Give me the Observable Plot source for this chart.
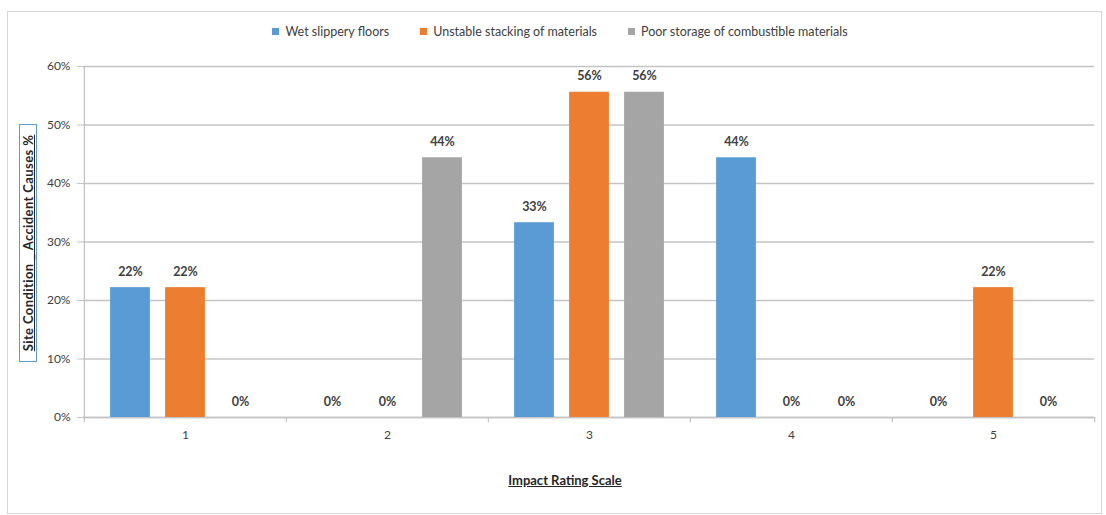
<!DOCTYPE html>
<html><head><meta charset="utf-8">
<script src="https://cdn.jsdelivr.net/npm/d3@7"></script>
<script src="https://cdn.jsdelivr.net/npm/@observablehq/plot@0.6"></script>
<style>
body{margin:0;width:1106px;height:515px;position:relative;background:#fff;font-family:Lato,"Open Sans",sans-serif;overflow:hidden}
#border{position:absolute;left:7px;top:11px;width:1095px;height:503px;border:1px solid #d6d6d6;box-sizing:border-box}
#chart{position:absolute;left:0;top:0}
#legend{position:absolute;top:24px;left:7px;width:1106px;display:flex;justify-content:center;gap:31px;font-size:12.5px;color:#404040}
#legend span.sw{display:inline-block;width:7px;height:7px;margin-right:6px;vertical-align:1px}
#ylab{position:absolute;left:28px;top:243px;width:238px;height:18px;transform:translate(-50%,-50%) rotate(-90deg);border:1px solid #5b9bd5;box-sizing:border-box;font-size:13px;letter-spacing:0.4px;font-weight:bold;text-decoration:underline;color:#262626;text-align:center;line-height:16px;white-space:nowrap}
#xlab{position:absolute;left:565px;top:472px;transform:translateX(-50%);font-size:13px;font-weight:bold;text-decoration:underline;color:#262626;white-space:nowrap}
</style></head>
<body>
<div id="border"></div>
<div id="chart"></div>
<div id="legend"></div>
<div id="ylab">Site Condition _ Accident Causes %</div>
<div id="xlab">Impact Rating Scale</div>
<script>
const categories = ["1", "2", "3", "4", "5"];
const seriesNames = ["Wet slippery floors", "Unstable stacking of materials", "Poor storage of combustible materials"];
const wetSlipperyFloors = [0.222, 0, 0.333, 0.444, 0];
const unstableStacking = [0.222, 0, 0.556, 0, 0.222];
const poorStorage = [0, 0.444, 0.556, 0, 0];
const seriesColors = ["#5b9bd5", "#ed7d31", "#a5a5a5"];
const yTicks = [0, 0.1, 0.2, 0.3, 0.4, 0.5, 0.6];

const seriesValues = [wetSlipperyFloors, unstableStacking, poorStorage];
const data = [];
seriesNames.forEach((s, i) => categories.forEach((c, j) => data.push({cat: c, series: s, value: seriesValues[i][j]})));

const W = 1106, H = 515, mL = 83, mR = 12, mT = 66, mB = 98;
const step = (W - mL - mR) / categories.length;
const slot = 55, barW = 40;
const inset = (step - barW) / 2;
const pct = d => Math.round(d * 100) + "%";
const grey = "#c4c4c4";

const marks = [
  Plot.gridY({ticks: yTicks, stroke: grey, strokeOpacity: 1, strokeWidth: 1.3}),
  Plot.axisY({ticks: yTicks, tickFormat: pct, tickSize: 6, tickPadding: 7, stroke: grey, fill: "#404040", fontSize: 12, label: null}),
  Plot.ruleX([categories[0]], {y1: 0, y2: 0.6, dx: -step / 2, stroke: grey, strokeWidth: 1.3}),
  Plot.ruleX(categories, {y1: 0, y2: -0.009, dx: -step / 2, stroke: grey, strokeWidth: 1.3}),
  Plot.ruleX([categories[categories.length - 1]], {y1: 0, y2: -0.009, dx: step / 2, stroke: grey, strokeWidth: 1.3}),
  Plot.ruleY([0], {stroke: grey, strokeWidth: 1.5}),
  Plot.axisX({tickSize: 0, tickPadding: 13, fill: "#404040", fontSize: 12, label: null})
];
seriesNames.forEach((s, i) => {
  const sub = data.filter(d => d.series === s);
  const dx = (i - 1) * slot;
  marks.push(Plot.barY(sub, {x: "cat", y: "value", fill: "series", dx, insetLeft: inset, insetRight: inset}));
  marks.push(Plot.text(sub, {x: "cat", y: "value", text: d => pct(d.value), dx, dy: -16, fontWeight: "bold", fontSize: 12.5, fill: "#404040"}));
});

const chart = Plot.plot({
  width: W, height: H,
  marginLeft: mL, marginRight: mR, marginTop: mT, marginBottom: mB,
  style: {fontFamily: "Lato, 'Open Sans', sans-serif", fontSize: "12px", background: "transparent"},
  x: {domain: categories, padding: 0, label: null},
  y: {domain: [0, 0.6], label: null},
  color: {domain: seriesNames, range: seriesColors},
  marks
});
document.getElementById("chart").appendChild(chart);

const legend = document.getElementById("legend");
seriesNames.forEach((s, i) => {
  const item = document.createElement("div");
  item.innerHTML = `<span class="sw" style="background:${seriesColors[i]}"></span>${s}`;
  legend.appendChild(item);
});
</script>
</body></html>
